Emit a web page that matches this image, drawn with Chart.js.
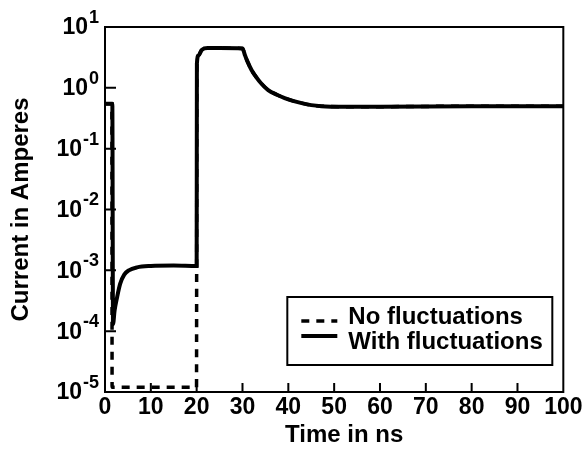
<!DOCTYPE html>
<html>
<head>
<meta charset="utf-8">
<script src="https://cdn.jsdelivr.net/npm/chart.js@4"></script>
<style>
  body { margin: 0; background: #fff; }
  canvas { display: block; }
</style>
</head>
<body>
<canvas id="chart" width="587" height="450"></canvas>
<script>
// DATA
const timeTicks = [0, 10, 20, 30, 40, 50, 60, 70, 80, 90, 100];
const decades = [1, 0, -1, -2, -3, -4, -5];
const seriesLabels = ['No fluctuations', 'With fluctuations'];

// after t = 20 ns both runs follow the same curve
const tailTime    = [20.05, 20.4, 21.1, 22.4, 25, 30, 30.5, 31, 32, 33, 34, 35.6, 37.5, 39.2, 41, 42.9, 45, 47.2, 52, 60, 80, 100];
const tailCurrent = [2.5, 3.4, 4.2, 4.5, 4.5, 4.45, 3.5, 2.8, 1.95, 1.5, 1.2, 0.92, 0.77, 0.68, 0.61, 0.56, 0.52, 0.5, 0.49, 0.49, 0.5, 0.5];

const withTime    = [0, 1.6, 1.75, 2.1, 2.6, 3.3, 4.2, 5.2, 7, 10, 15, 20];
const withCurrent = [0.55, 0.55, 1.3e-4, 2.2e-4, 3.5e-4, 6e-4, 8.5e-4, 1e-3, 1.12e-3, 1.18e-3, 1.2e-3, 1.18e-3];

const noTime    = [0, 1.5, 1.55, 19.97, 20];
const noCurrent = [0.55, 0.55, 1.2e-5, 1.2e-5, 1.18e-3];

const FONT = "'Liberation Sans', Arial, Helvetica, sans-serif";

const toPoints = (xs, ys) => xs.map((x, i) => ({ x: x, y: ys[i] }));

// box, inner ticks, y labels, titles and legend
const frame = {
  id: 'frame',
  afterDraw(chart) {
    const ctx = chart.ctx;
    const { left, right, top, bottom } = chart.chartArea;
    const xs = chart.scales.x, ys = chart.scales.y;
    ctx.save();
    ctx.strokeStyle = '#000';
    ctx.fillStyle = '#000';
    ctx.lineWidth = 2;
    ctx.strokeRect(left, top, right - left, bottom - top);

    ctx.beginPath();
    timeTicks.slice(1, -1).forEach(t => {
      const px = xs.getPixelForValue(t);
      ctx.moveTo(px, bottom);
      ctx.lineTo(px, bottom - 9);
    });
    decades.slice(1, -1).forEach(e => {
      const py = ys.getPixelForValue(Math.pow(10, e));
      ctx.moveTo(left, py);
      ctx.lineTo(left + 11, py);
    });
    ctx.stroke();

    // 10^n labels
    const baseFont = 'bold 23px ' + FONT;
    const supFont = 'bold 18px ' + FONT;
    ctx.textBaseline = 'middle';
    ctx.textAlign = 'right';
    decades.forEach(e => {
      const py = ys.getPixelForValue(Math.pow(10, e));
      const sup = String(e);
      ctx.font = supFont;
      const sw = ctx.measureText(sup).width;
      ctx.fillText(sup, left - 6, py - 9);
      ctx.font = baseFont;
      ctx.fillText('10', left - 7 - sw, py + 1);
    });

    // axis titles
    ctx.font = 'bold 24px ' + FONT;
    ctx.textAlign = 'center';
    ctx.fillText('Time in ns', (left + right) / 2 + 10, 435);
    ctx.save();
    ctx.translate(21, (top + bottom) / 2);
    ctx.rotate(-Math.PI / 2);
    ctx.fillText('Current in Amperes', 0, 0);
    ctx.restore();

    // legend
    const bx = right - 276, by = bottom - 95;
    ctx.lineWidth = 2;
    ctx.strokeRect(bx, by, 265, 68);
    const ds = chart.data.datasets;
    const rows = [by + 20, by + 45];
    ctx.textAlign = 'left';
    ds.forEach((d, i) => {
      ctx.save();
      ctx.lineWidth = d.borderWidth;
      ctx.setLineDash(d.borderDash || []);
      ctx.beginPath();
      ctx.moveTo(bx + 14, rows[i] + (i === 0 ? 4 : -6));
      ctx.lineTo(bx + 50, rows[i] + (i === 0 ? 4 : -6));
      ctx.stroke();
      ctx.restore();
      ctx.font = 'bold 24px ' + FONT;
      ctx.fillText(d.label, bx + 61, rows[i]);
    });
    ctx.restore();
  }
};

new Chart(document.getElementById('chart'), {
  type: 'line',
  data: {
    datasets: [
      {
        label: seriesLabels[0],
        data: toPoints(noTime.concat(tailTime), noCurrent.concat(tailCurrent)),
        borderColor: '#000',
        borderWidth: 3.5,
        borderDash: [8, 7],
        pointRadius: 0,
        cubicInterpolationMode: 'monotone',
        order: 2
      },
      {
        label: seriesLabels[1],
        data: toPoints(withTime.concat(tailTime), withCurrent.concat(tailCurrent)),
        borderColor: '#000',
        borderWidth: 4,
        pointRadius: 0,
        cubicInterpolationMode: 'monotone',
        order: 1
      }
    ]
  },
  options: {
    responsive: false,
    animation: false,
    layout: { padding: { left: 105, right: 23, top: 27, bottom: 26 } },
    plugins: { legend: { display: false }, tooltip: { enabled: false } },
    scales: {
      x: {
        type: 'linear',
        min: 0,
        max: 100,
        afterBuildTicks: s => { s.ticks = timeTicks.map(v => ({ value: v })); },
        grid: { display: false, drawTicks: false },
        border: { display: false },
        ticks: {
          color: '#000',
          padding: 4.5,
          maxRotation: 0,
          font: { family: FONT, size: 23, weight: 'bold', lineHeight: 1 }
        }
      },
      y: {
        type: 'logarithmic',
        min: 1e-5,
        max: 10,
        display: false
      }
    }
  },
  plugins: [frame]
});
</script>
</body>
</html>
